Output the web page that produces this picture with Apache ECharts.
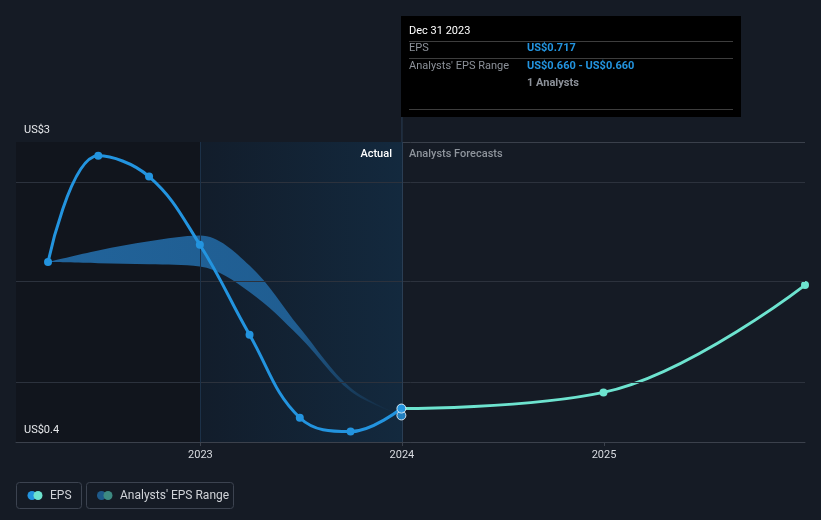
<!DOCTYPE html>
<html>
<head>
<meta charset="utf-8">
<script src="https://cdn.jsdelivr.net/npm/echarts@6/dist/echarts.min.js"></script>
<style>
html,body{margin:0;padding:0;background:#151b25;}
#c{width:821px;height:520px;}
</style>
</head>
<body>
<div id="c"></div>
<script>
// ---- data ----
const actualDates = ['2022-03-31','2022-06-30','2022-09-30','2022-12-31','2023-03-31','2023-06-30','2023-09-30','2023-12-31'];
const actualEps = [1.96, 2.88, 2.70, 2.11, 1.33, 0.61, 0.49, 0.69];
const forecastDates = ['2023-12-31','2024-12-31','2025-12-31'];
const forecastEps = [0.69, 0.83, 1.76];
const rangeDates = ['2022-03-31','2022-06-30','2022-09-30','2022-12-31','2023-03-31','2023-06-30','2023-09-30','2023-12-31'];
const rangeLow = [1.96, 1.95, 1.94, 1.92, 1.70, 1.31, 0.84, 0.63];
const rangeHigh = [1.96, 2.06, 2.14, 2.19, 1.93, 1.39, 0.87, 0.63];
const estimateDate = '2023-12-31';
const estimateEps = 0.63;
const gridValues = [0.92, 1.787, 2.653];
const yTicks = [0.4, 3];
const yTickLabels = ['US$0.4', 'US$3'];
const xMin = '2022-02-01', xMax = '2025-12-31';
const pastEnd = '2023-01-01', nowDate = '2024-01-01';

const BLUE = '#2394df', TEAL = '#6de3cf';
const FONT = 'Roboto, "Noto Sans", sans-serif';

const chart = echarts.init(document.getElementById('c'), null, {renderer:'canvas'});

const pair = (d, v) => d.map((x, i) => [x, v[i]]);
const diff = rangeHigh.map((h, i) => h - rangeLow[i]);

const option = {
  backgroundColor: '#151b25',
  animation: false,
  grid: {left: 16, right: 16, top: 142, bottom: 78, containLabel: false},
  xAxis: {
    type: 'time', min: xMin, max: xMax,
    minInterval: 365 * 86400000,
    axisLine: {show: true, lineStyle: {color: '#3b414c', width: 1}},
    axisTick: {show: true, length: 4, lineStyle: {color: '#3b414c'}},
    splitLine: {show: false},
    axisLabel: {
      color: '#d8dbe0', fontSize: 11, fontFamily: FONT, margin: 8,
      showMinLabel: false, showMaxLabel: false,
      formatter: v => { const d = new Date(v); return (d.getMonth() === 0 && d.getDate() === 1) ? String(d.getFullYear()) : ''; }
    }
  },
  yAxis: {
    type: 'value', min: yTicks[0], max: yTicks[1], interval: yTicks[1] - yTicks[0],
    axisLine: {show: false}, axisTick: {show: false},
    splitLine: {show: true, lineStyle: {color: '#3a404b', width: 1}},
    axisLabel: {show: false}
  },
  series: [
    { // background regions & grid lines
      type: 'line', data: [], z: 0, silent: true,
      markArea: {
        silent: true,
        data: [
          [{xAxis: xMin, itemStyle: {color: '#11151d'}}, {xAxis: pastEnd}],
          [{xAxis: pastEnd, itemStyle: {color: new echarts.graphic.LinearGradient(0, 0, 1, 0, [
            {offset: 0, color: '#121d2b'}, {offset: 1, color: '#13293e'}])}}, {xAxis: nowDate}]
        ]
      },
      markLine: {
        silent: true, symbol: 'none', label: {show: false},
        data: gridValues.map(v => ({yAxis: v, lineStyle: {color: '#2c323d', width: 1, type: 'solid'}}))
          .concat([
            {xAxis: pastEnd, lineStyle: {color: '#1c3148', width: 1, type: 'solid'}},
            {xAxis: nowDate, lineStyle: {color: '#2a3e54', width: 1, type: 'solid'}}
          ])
      }
    },
    {
      name: 'rangeLow', type: 'line', stack: 'range', data: pair(rangeDates, rangeLow),
      smooth: 0.35, symbol: 'none', lineStyle: {width: 0, opacity: 0}, silent: true, z: 2
    },
    {
      name: "Analysts' EPS Range", type: 'line', stack: 'range', data: pair(rangeDates, diff),
      smooth: 0.35, symbol: 'none', lineStyle: {width: 0, opacity: 0}, silent: true, z: 2,
      areaStyle: {
        opacity: 1,
        color: new echarts.graphic.LinearGradient(0, 0, 1, 0, [
          {offset: 0, color: 'rgba(34,104,162,0.95)'},
          {offset: 0.7, color: 'rgba(34,104,162,0.85)'},
          {offset: 0.95, color: 'rgba(34,104,162,0.08)'},
          {offset: 1, color: 'rgba(34,104,162,0)'}
        ])
      }
    },
    {
      name: 'EPS', type: 'line', data: pair(actualDates, actualEps), smooth: 0.4,
      symbol: 'circle', symbolSize: 8, showSymbol: true, z: 5,
      lineStyle: {color: BLUE, width: 3}, itemStyle: {color: BLUE}
    },
    {
      name: 'EPS forecast', type: 'line', data: pair(forecastDates, forecastEps), smooth: 0.4,
      symbol: 'circle', symbolSize: 8, z: 4,
      lineStyle: {color: TEAL, width: 3}, itemStyle: {color: TEAL}
    },
    {
      type: 'scatter', z: 6, symbolSize: 9,
      data: [[estimateDate, estimateEps], [actualDates[actualDates.length - 1], actualEps[actualEps.length - 1]]],
      itemStyle: {color: BLUE, borderColor: '#ffffff', borderWidth: 1}
    }
  ]
};
chart.setOption(option);

const nx = chart.convertToPixel({xAxisIndex: 0}, nowDate);
const gridTop = 142;
const txt = (x, y, s, o) => ({type: 'text', x, y, z: 101, style: Object.assign({text: s, fill: '#9aa0a8', font: '11px ' + FONT, textVerticalAlign: 'middle'}, o || {})});
const ln = (x1, y1, x2, y2, c) => ({type: 'line', z: 101, shape: {x1, y1, x2, y2}, style: {stroke: c, lineWidth: 1}});
const yLabelEls = yTicks.map((v, i) => txt(24, chart.convertToPixel({yAxisIndex: 0}, v) - 12, yTickLabels[i], {fill: '#e6e8eb', font: '11px ' + FONT}));
chart.setOption({
  graphic: yLabelEls.concat([
    {type: 'line', z: 100, shape: {x1: nx, y1: 117, x2: nx, y2: gridTop}, style: {stroke: '#2a3e54', lineWidth: 1}},
    txt(nx - 10, 154, 'Actual', {fill: '#ffffff', textAlign: 'right', font: '500 11px ' + FONT}),
    txt(nx + 7, 154, 'Analysts Forecasts', {fill: '#8e949c', textAlign: 'left', font: '500 11px ' + FONT}),
    // tooltip
    {type: 'rect', z: 100, shape: {x: 401, y: 16, width: 340, height: 101}, style: {fill: '#000000'}},
    txt(409, 31, 'Dec 31 2023', {fill: '#ffffff'}),
    ln(409, 41.5, 733, 41.5, '#3d3d3d'),
    txt(409, 48.5, 'EPS', {fill: '#8c9199'}),
    txt(527, 48.5, 'US$0.717', {fill: BLUE, font: 'bold 11px ' + FONT}),
    ln(409, 58.5, 733, 58.5, '#3d3d3d'),
    txt(409, 66, "Analysts' EPS Range", {fill: '#8c9199'}),
    txt(527, 66, 'US$0.660 - US$0.660', {fill: BLUE, font: 'bold 11px ' + FONT}),
    txt(527, 83, '1 Analysts', {fill: '#8c9199', font: 'bold 11px ' + FONT}),
    ln(409, 109.5, 733, 109.5, '#3d3d3d'),
    // legend
    {type: 'rect', z: 100, shape: {x: 16.5, y: 482.5, width: 65, height: 26, r: 3}, style: {fill: 'none', stroke: '#3c4350', lineWidth: 1}},
    {type: 'circle', z: 101, shape: {cx: 32, cy: 495.5, r: 4.5}, style: {fill: BLUE}},
    {type: 'circle', z: 102, shape: {cx: 38, cy: 495.5, r: 4.5}, style: {fill: TEAL}},
    txt(50, 495.5, 'EPS', {fill: '#d0d3d8', font: '12px ' + FONT}),
    {type: 'rect', z: 100, shape: {x: 86.5, y: 482.5, width: 147, height: 26, r: 3}, style: {fill: 'none', stroke: '#3c4350', lineWidth: 1}},
    {type: 'circle', z: 101, shape: {cx: 101.5, cy: 495.5, r: 4.5}, style: {fill: '#1e5a8a'}},
    {type: 'circle', z: 102, shape: {cx: 108, cy: 495.5, r: 4.5}, style: {fill: '#3d8a82'}},
    txt(120, 495.5, "Analysts' EPS Range", {fill: '#d0d3d8', font: '12px ' + FONT})
  ])
});
</script>
</body>
</html>
